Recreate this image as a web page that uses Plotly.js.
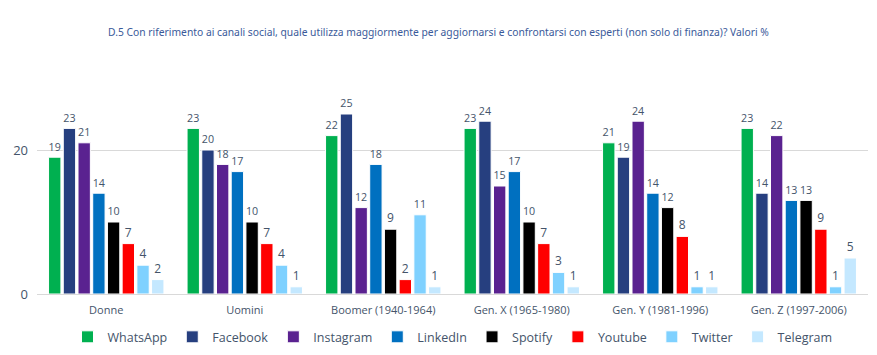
<!DOCTYPE html>
<html>
<head>
<meta charset="utf-8">
<script src="https://cdn.plot.ly/plotly-3.0.1.min.js"></script>
<style>html,body{margin:0;padding:0;background:#fff;}#chart{width:877px;height:355px;}</style>
</head>
<body>
<div id="chart"></div>
<script>
const categories = ["Donne", "Uomini", "Boomer (1940-1964)", "Gen. X (1965-1980)", "Gen. Y (1981-1996)", "Gen. Z (1997-2006)"];
const seriesNames = ["WhatsApp", "Facebook", "Instagram", "LinkedIn", "Spotify", "Youtube", "Twitter", "Telegram"];
const whatsapp  = [19, 23, 22, 23, 21, 23];
const facebook  = [23, 20, 25, 24, 19, 14];
const instagram = [21, 18, 12, 15, 24, 22];
const linkedin  = [14, 17, 18, 17, 14, 13];
const spotify   = [10, 10, 9, 10, 12, 13];
const youtube   = [7, 7, 2, 7, 8, 9];
const twitter   = [4, 4, 11, 3, 1, 1];
const telegram  = [2, 1, 1, 1, 1, 5];
const colors = ["#00b050", "#263f7f", "#5a2290", "#0070c0", "#000000", "#ff0000", "#7fd1ff", "#c4e8ff"];
const yTicks = [0, 20];

const seriesValues = [whatsapp, facebook, instagram, linkedin, spotify, youtube, twitter, telegram];
const labelColor = "#44546a";
const traces = seriesNames.map((name, i) => ({
  type: "bar",
  name: name,
  x: categories,
  y: seriesValues[i],
  text: seriesValues[i].map(String),
  textposition: "outside",
  cliponaxis: false,
  textfont: {family: "Open Sans, sans-serif", size: 12, color: labelColor},
  marker: {color: colors[i], line: {color: "#ffffff", width: 1}},
  hoverinfo: "x+y+name"
}));

const layout = {
  width: 877, height: 355,
  margin: {l: 37, r: 9, t: 78, b: 61, autoexpand: false},
  paper_bgcolor: "#ffffff", plot_bgcolor: "#ffffff",
  font: {family: "Open Sans, sans-serif", color: labelColor},
  title: {
    text: "D.5 Con riferimento ai canali social, quale utilizza maggiormente per aggiornarsi e confrontarsi con esperti (non solo di finanza)? Valori %",
    font: {family: "Noto Sans, sans-serif", size: 10.3, color: "#3a5a9a"},
    x: 0.5, xanchor: "center", y: 0.91, yanchor: "middle"
  },
  barmode: "group",
  bargap: 0.15,
  bargroupgap: 0.16,
  showlegend: true,
  legend: {
    orientation: "h", x: 0.5, xanchor: "center", y: -0.2, yanchor: "middle",
    font: {family: "Open Sans, sans-serif", size: 12.5, color: labelColor},
    itemwidth: 30, traceorder: "normal"
  },
  xaxis: {
    type: "category",
    tickfont: {family: "Open Sans, sans-serif", size: 11, color: labelColor},
    showline: true, linecolor: "#d9d9d9", linewidth: 1,
    ticks: "", showgrid: false, ticklabelstandoff: 6
  },
  yaxis: {
    range: [0, 30],
    tickvals: yTicks,
    ticktext: yTicks.map(String),
    tickfont: {family: "Open Sans, sans-serif", size: 13, color: labelColor},
    showgrid: true, gridcolor: "#d9d9d9", gridwidth: 1,
    zeroline: true, zerolinecolor: "#d9d9d9", zerolinewidth: 1,
    showline: false, ticks: "", ticklabelstandoff: 8
  }
};

Plotly.newPlot("chart", traces, layout, {displayModeBar: false, staticPlot: true});
</script>
</body>
</html>
